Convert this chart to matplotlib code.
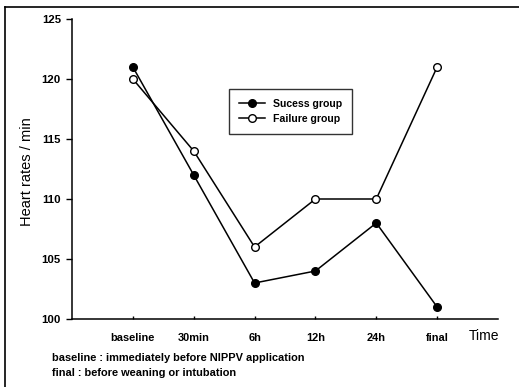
import matplotlib
matplotlib.use("Agg")
import matplotlib.pyplot as plt
from matplotlib.lines import Line2D

plt.rcParams['font.family'] = ['Liberation Sans', 'DejaVu Sans']

categories = ["baseline", "30min", "6h", "12h", "24h", "final"]
success = [121, 112, 103, 104, 108, 101]
failure = [120, 114, 106, 110, 110, 121]
yticks = [100, 105, 110, 115, 120, 125]

W, H = 519, 387
fig = plt.figure(figsize=(W/100, H/100), dpi=100)
ax = fig.add_axes([72/W, 1-319/H, (498-72)/W, (319-19)/H])

x = list(range(1, len(categories)+1))
ax.plot(x, success, color='black', lw=1.1, marker='o', ms=5.5,
        mfc='black', mec='black', label='Sucess group')
ax.plot(x, failure, color='black', lw=1.1, marker='o', ms=5.5,
        mfc='white', mec='black', mew=1.0, label='Failure group')

ax.set_xlim(0, 7)
ax.set_ylim(100, 125)
ax.set_yticks(yticks)
ax.set_yticklabels([str(v) for v in yticks], fontsize=8.2, fontweight='bold')
ax.set_xticks(x)
ax.set_xticklabels(categories, fontsize=7.9, fontweight='bold')
ax.tick_params(axis='y', direction='out', length=4, width=1, pad=4)
ax.tick_params(axis='x', direction='in', length=2.5, width=1, pad=10)
for s in ['top', 'right']:
    ax.spines[s].set_visible(False)
for s in ['left', 'bottom']:
    ax.spines[s].set_linewidth(1.1)

fig.text(27/W, 1-172/H, "Heart rates / min", fontsize=10.5, rotation=90,
         ha='center', va='center')

fig.text(484/W, 1-336/H, "Time", fontsize=10, ha='center', va='center')

leg = ax.legend(loc='upper left', bbox_to_anchor=((229-72)/(498-72), (319-89)/300),
                prop={'size': 7.6, 'weight': 'bold'}, frameon=True, fancybox=False,
                edgecolor='black', handlelength=2.5, borderpad=0.95, labelspacing=0.45,
                handletextpad=0.7, borderaxespad=0)
leg.get_frame().set_linewidth(1.0)

fig.text(52/W, 1-358/H, "baseline : immediately before NIPPV application", fontsize=7.9,
         ha='left', va='center', fontweight='bold')
fig.text(52/W, 1-373/H, "final : before weaning or intubation", fontsize=7.9,
         ha='left', va='center', fontweight='bold')

# outer frame (left and top)
fig.add_artist(Line2D([5/W, 5/W], [0, 1-7/H], color='black', lw=1.2, transform=fig.transFigure))
fig.add_artist(Line2D([5/W, 1], [1-7/H, 1-7/H], color='black', lw=1.2, transform=fig.transFigure))

fig.savefig("out.png", dpi=100)
